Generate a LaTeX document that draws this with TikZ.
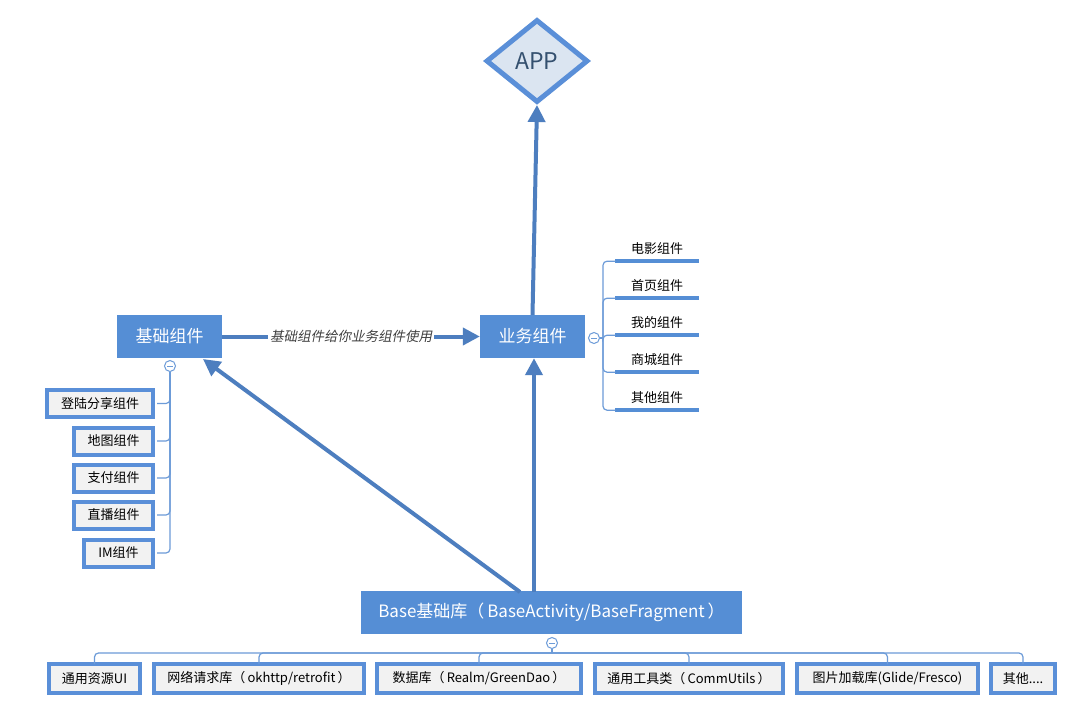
\documentclass[tikz,border=0pt]{standalone}
\usepackage{fontspec}
\setmainfont{Noto Sans CJK SC}
\newfontfamily\cjkit[FakeSlant=0.2]{Noto Sans CJK SC}
\usetikzlibrary{shapes.geometric,arrows.meta,calc}
\definecolor{boxblue}{HTML}{558ED5}
\definecolor{arrowblue}{HTML}{4D7EBF}
\definecolor{cline}{HTML}{6C9BD8}
\definecolor{sbord}{HTML}{5A8FD8}
\definecolor{sfill}{HTML}{F2F2F2}
\definecolor{appfill}{HTML}{DBE5F1}
\definecolor{apptext}{HTML}{34506F}
\definecolor{labgray}{HTML}{404040}
\tikzset{
  mainbox/.style={fill=boxblue, text=white, font=\fontsize{17}{20}\selectfont, inner sep=0pt, minimum height=43pt},
  subbox/.style={draw=sbord, fill=sfill, line width=4pt, font=\fontsize{13}{15}\selectfont, inner sep=0pt, minimum height=27pt},
  botbox/.style={draw=sbord, fill=sfill, line width=4pt, font=\fontsize{13}{15}\selectfont, inner sep=0pt, minimum height=29pt},
  item/.style={font=\fontsize{13}{15}\selectfont, inner sep=0pt, minimum width=83pt, minimum height=26pt},
  uline/.style={draw=boxblue, line width=4pt},
  conn/.style={draw=cline, line width=1.2pt, rounded corners=4pt},
  bigarrow/.style={draw=arrowblue, line width=4pt, -{Triangle[length=17pt,width=17pt]}},
  collapse/.style={circle, draw=cline, fill=white, line width=1pt, minimum size=11pt, inner sep=0pt,
    path picture={\draw[cline, line width=1pt] ([xshift=-3pt]path picture bounding box.center) -- ([xshift=3pt]path picture bounding box.center);}}
}
\begin{document}
\begin{tikzpicture}[x=1pt,y=-1pt]
\useasboundingbox[fill=white] (0,0) rectangle (1080,704);

% APP
\node[diamond, draw=sbord, fill=appfill, line width=5pt, inner sep=0pt, minimum width=102pt, minimum height=83pt, text=apptext, font=\fontsize{23}{27}\selectfont] (app) at (537,61) {APP};

% main boxes
\node[mainbox, minimum width=105pt] (jc) at (169.5,336.5) {基础组件};
\node[mainbox, minimum width=105pt] (yw) at (532.5,336.5) {业务组件};
\node[mainbox, minimum width=381pt] (base) at (551.5,612.5) {Base基础库（\,BaseActivity/BaseFragment\,）};

% arrows
\draw[bigarrow] (yw.north) -- (app.south);
\draw[bigarrow] (jc.east) -- node[fill=white, inner sep=2pt, text=labgray, font=\cjkit\fontsize{13.5}{15}\selectfont] (lab) {基础组件给你业务组件使用} (yw.west);
\coordinate (bs1) at (520,592);
\coordinate (bs2) at (534,592);
\coordinate (jct) at (203,359);
\draw[bigarrow] (bs1) -- (jct);
\draw[bigarrow] (bs2) -- (yw.south -| bs2);

% collapse markers
\node[collapse] (lc) at (170,366) {};
\node[collapse] (rc) at (594,338) {};
\node[collapse] (bc) at (552,643) {};

% left list
\node[subbox, minimum width=106pt] (l1) at (100,403.5) {登陆分享组件};
\node[subbox, minimum width=79pt] (l2) at (113.5,441) {地图组件};
\node[subbox, minimum width=79pt] (l3) at (113.5,478) {支付组件};
\node[subbox, minimum width=79pt] (l4) at (113.5,515) {直播组件};
\node[subbox, minimum width=69pt] (l5) at (118.5,553) {IM组件};
\foreach \b in {l1,l2,l3,l4,l5} {
  \draw[conn] (lc.south) |- ([xshift=2pt]\b.east);
}

% right list
\node[item] (r1) at (657,249) {电影组件};
\node[item] (r2) at (657,286) {首页组件};
\node[item] (r3) at (657,323) {我的组件};
\node[item] (r4) at (657,360) {商城组件};
\node[item] (r5) at (657,398) {其他组件};
\coordinate (rj) at (603,338);
\draw[conn] (rc.east) -- (rj);
\foreach \b in {r1,r2,r3,r4,r5} {
  \draw[uline] ([yshift=1pt]\b.south west) -- ([yshift=1pt]\b.south east);
  \draw[conn] (rj) |- ([yshift=1pt]\b.south west);
}

% bottom list
\node[botbox, minimum width=91pt] (b1) at (94.5,678.5) {通用资源UI};
\node[botbox, minimum width=210pt] (b2) at (259,678.5) {网络请求库（\,okhttp/retrofit\,）};
\node[botbox, minimum width=204pt] (b3) at (479,678.5) {数据库（\,Realm/GreenDao\,）};
\node[botbox, minimum width=188pt] (b4) at (689,678.5) {通用工具类（\,CommUtils\,）};
\node[botbox, minimum width=181pt] (b5) at (887.5,678.5) {图片加载库(Glide/Fresco)};
\node[botbox, minimum width=64pt] (b6) at (1023,678.5) {其他....};
\coordinate (bj) at (552,653);
\draw[conn] (bc.south) -- (bj);
\foreach \b in {b1,b2,b3,b4,b5,b6} {
  \draw[conn] (bj) -| ([yshift=-2pt]\b.north);
}
\end{tikzpicture}
\end{document}
